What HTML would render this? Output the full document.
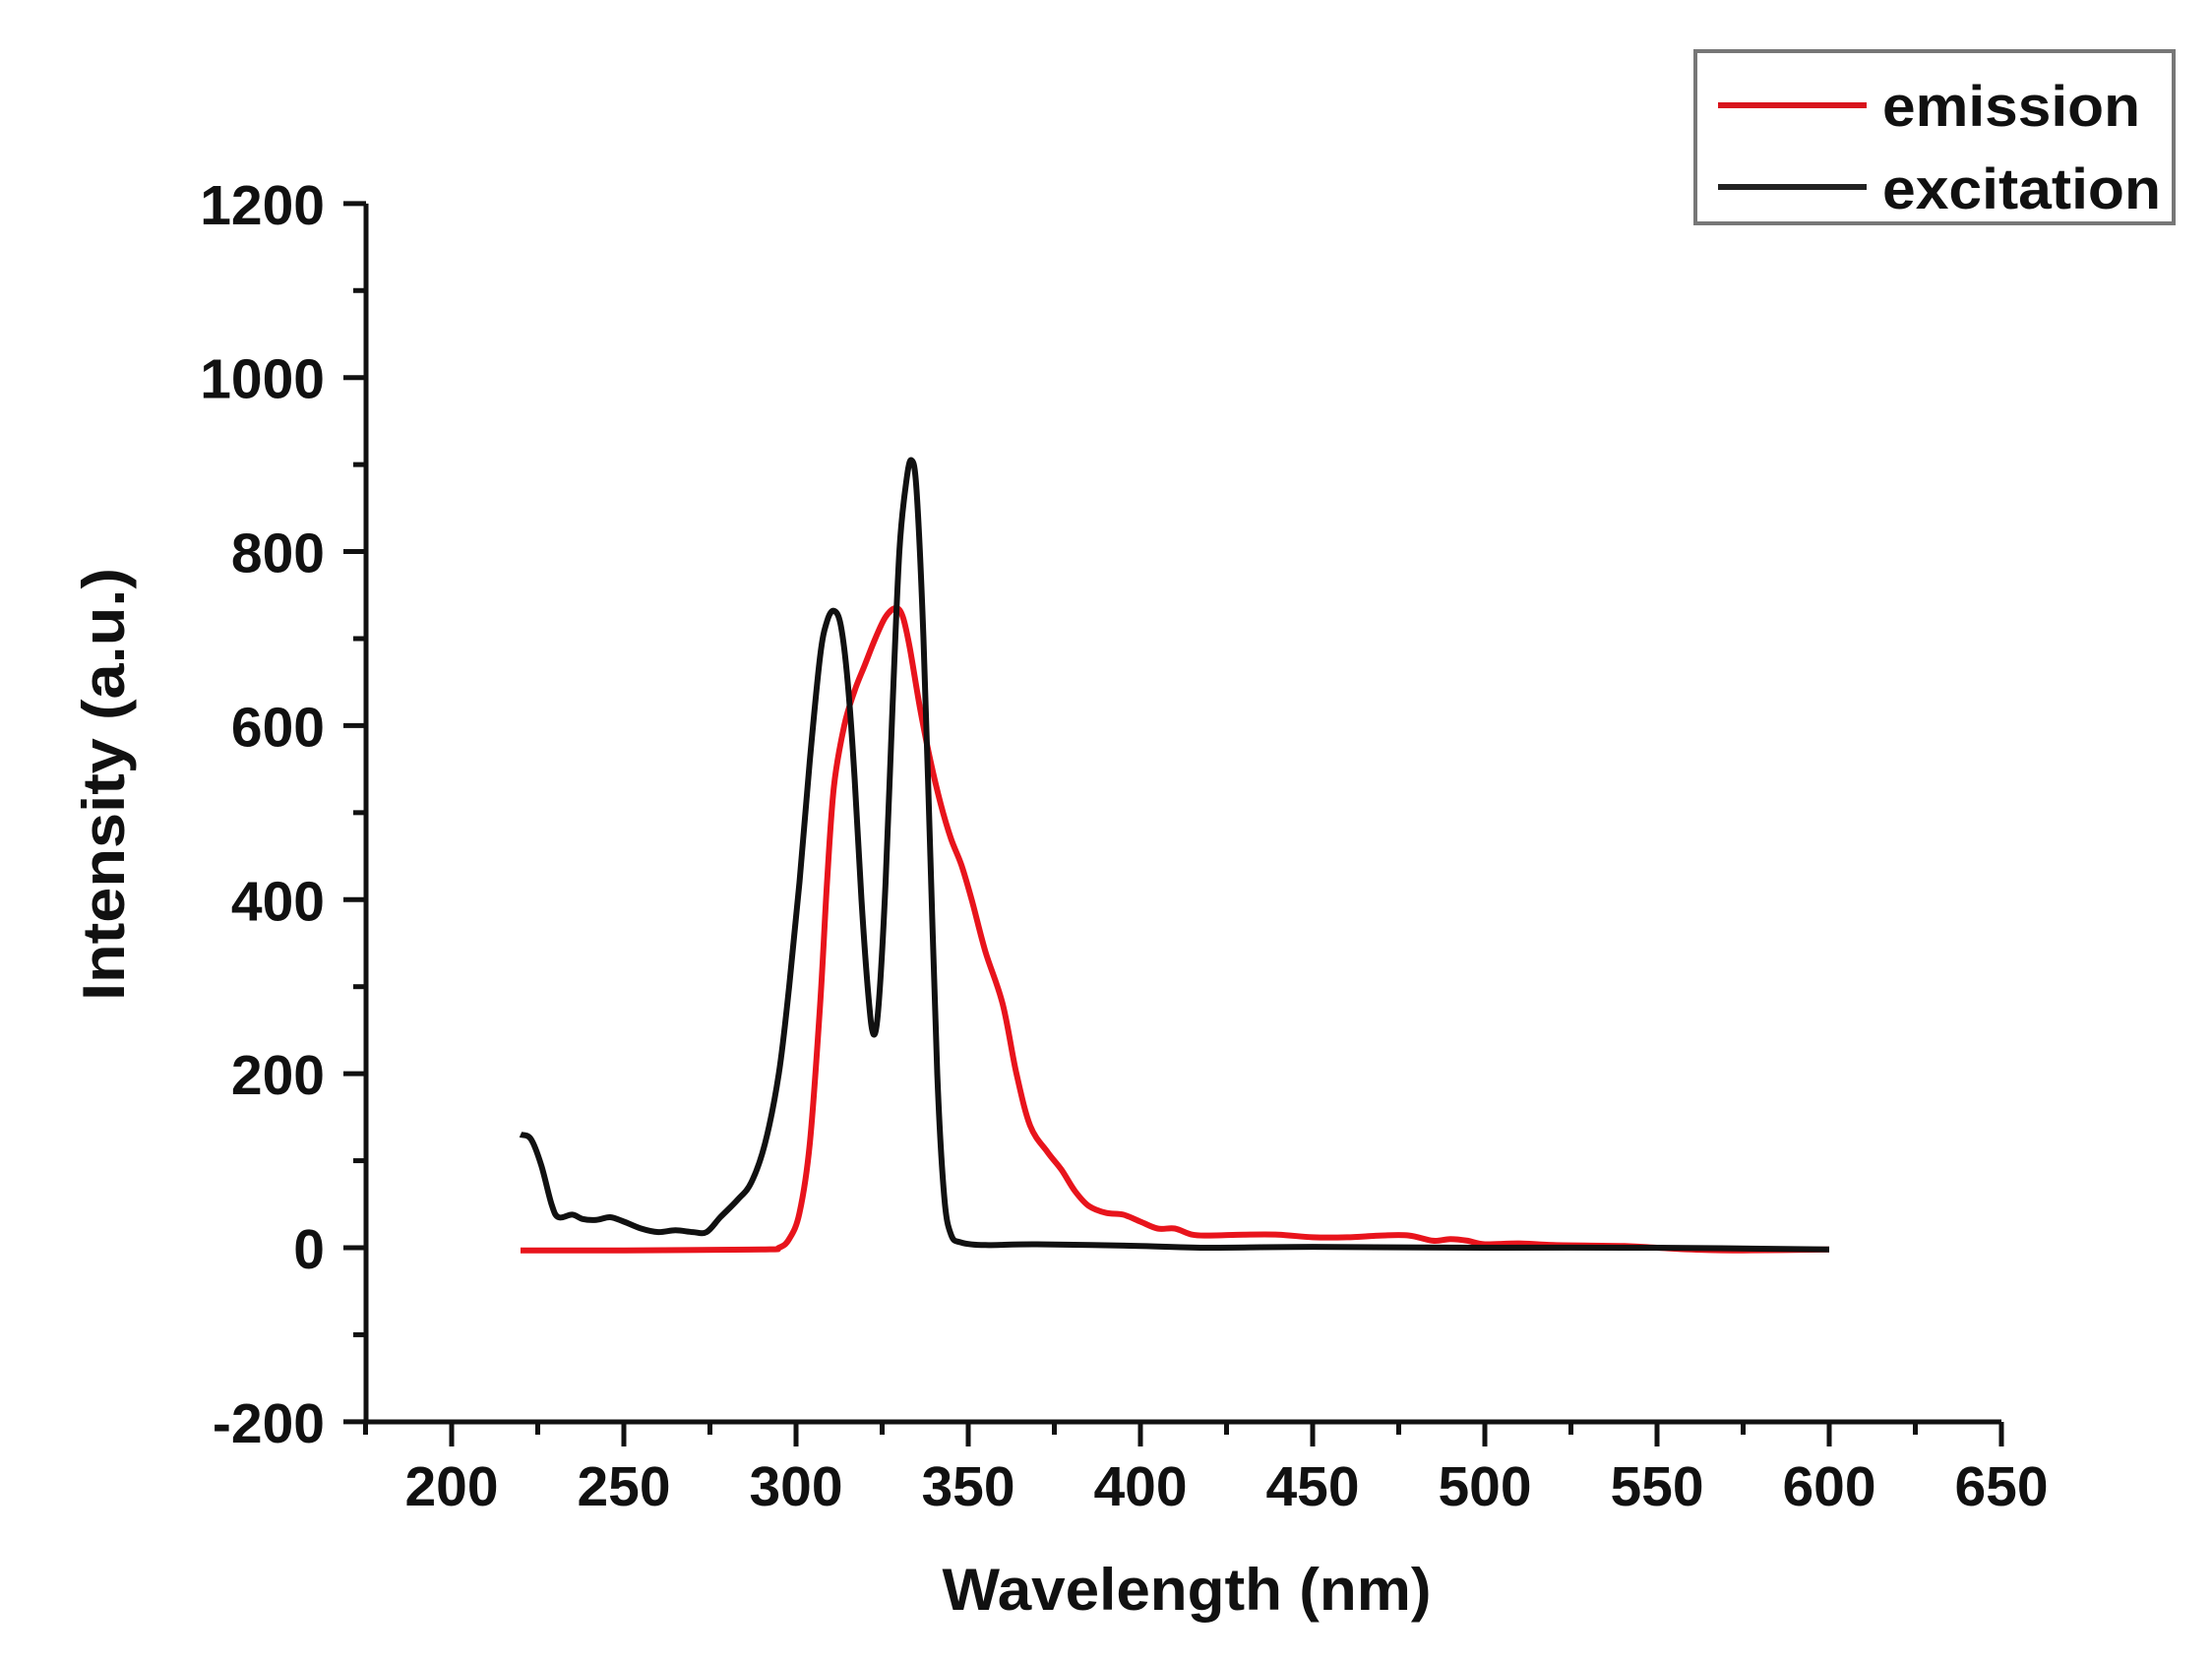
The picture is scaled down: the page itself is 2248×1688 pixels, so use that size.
<!DOCTYPE html>
<html><head><meta charset="utf-8"><style>
html,body{margin:0;padding:0;background:#fff;}
svg{display:block;}
text{font-family:"Liberation Sans",Arial,sans-serif;font-weight:bold;fill:#111;}
</style></head><body>
<svg id="s" width="2248" height="1688" viewBox="0 0 2248 1688" xmlns="http://www.w3.org/2000/svg">
<rect width="2248" height="1688" fill="#fff"/>
<g id="axes" stroke="#111" stroke-width="5" fill="none"></g>
<g id="labels" font-size="57"></g>
<path id="em" fill="none" stroke="#e8141c" stroke-width="6" stroke-linejoin="round"/>
<path id="ex" fill="none" stroke="#111" stroke-width="6" stroke-linejoin="round"/>
<text x="0" y="0" font-size="60" text-anchor="middle" transform="translate(126,797) rotate(-90)" textLength="440" lengthAdjust="spacingAndGlyphs">Intensity (a.u.)</text>
<text x="1206" y="1636" font-size="60" text-anchor="middle" textLength="497" lengthAdjust="spacingAndGlyphs">Wavelength (nm)</text>
<rect x="1723" y="52" width="486" height="175" fill="#fff" stroke="#777" stroke-width="4"/>
<line x1="1746" y1="107" x2="1897" y2="107" stroke="#d8141c" stroke-width="6"/>
<line x1="1746" y1="190" x2="1897" y2="190" stroke="#222" stroke-width="6"/>
<text x="1913" y="128" font-size="58" textLength="262" lengthAdjust="spacingAndGlyphs">emission</text>
<text x="1913" y="212" font-size="58" textLength="283" lengthAdjust="spacingAndGlyphs">excitation</text>
</svg>
<script>
var X=function(n){return 459+(n-200)*3.5;};
var Y=function(v){return 1268-v*0.8843;};
var ns="http://www.w3.org/2000/svg";
var ax=document.getElementById('axes'),lb=document.getElementById('labels');
function L(x1,y1,x2,y2){var l=document.createElementNS(ns,'line');l.setAttribute('x1',x1);l.setAttribute('y1',y1);l.setAttribute('x2',x2);l.setAttribute('y2',y2);ax.appendChild(l);}
function T(x,y,s,a){var t=document.createElementNS(ns,'text');t.setAttribute('x',x);t.setAttribute('y',y);t.setAttribute('text-anchor',a);t.textContent=s;lb.appendChild(t);}
L(372,Y(1200),372,1447);L(370,1445,X(650),1445);
for(var v=-200;v<=1200;v+=100){var maj=(v%200===0);L(maj?349:359,Y(v),372,Y(v));if(maj)T(330,Y(v)+21,String(v),'end');}
for(var n=175;n<=650;n+=25){var mj=(n%50===0);L(X(n),1445,X(n),mj?1470:1458);if(mj&&n>=200)T(X(n),1530,String(n),'middle');}
var ex=[[220,130],[223,125],[226,95],[229,50],[231,35],[235,38],[238,33],[242,32],[246,35],[250,30],[255,22],[260,18],[265,20],[270,18],[274,18],[278,35],[283,55],[287,75],[291,120],[295,200],[298,300],[301,420],[304,560],[307,680],[309,720],[311,732],[313,715],[315,650],[317,540],[319,400],[321,290],[322.5,245],[324,280],[326,420],[328,620],[330,800],[332,880],[333.5,905],[335,870],[337,700],[339,450],[341,200],[343,60],[345,15],[348,6],[355,3],[370,4],[400,2],[420,0],[450,1],[500,0],[550,0],[600,-2]];
var em=[[220,-3],[250,-3],[290,-2],[295,0],[298,10],[301,40],[304,120],[307,280],[309,420],[311,530],[314,600],[317,640],[320,670],[323,700],[326,725],[329,735],[331,725],[333,690],[336,620],[339,560],[342,510],[345,470],[348,440],[351,400],[355,340],[360,280],[364,200],[368,140],[373,110],[377,90],[381,65],[385,48],[390,40],[395,38],[400,30],[405,22],[410,22],[415,15],[420,14],[430,15],[440,15],[450,12],[460,12],[470,14],[478,14],[485,8],[490,10],[495,8],[500,4],[510,5],[520,3],[540,2],[550,0],[560,-2],[575,-3],[600,-2]];
function P(a){var p=a.map(function(q){return [X(q[0]),Y(q[1])];});var d='M'+p[0][0].toFixed(1)+' '+p[0][1].toFixed(1);
for(var i=0;i<p.length-1;i++){var p0=p[Math.max(i-1,0)],p1=p[i],p2=p[i+1],p3=p[Math.min(i+2,p.length-1)];
var c1=[p1[0]+(p2[0]-p0[0])/6,p1[1]+(p2[1]-p0[1])/6],c2=[p2[0]-(p3[0]-p1[0])/6,p2[1]-(p3[1]-p1[1])/6];
d+=' C'+c1[0].toFixed(1)+' '+c1[1].toFixed(1)+' '+c2[0].toFixed(1)+' '+c2[1].toFixed(1)+' '+p2[0].toFixed(1)+' '+p2[1].toFixed(1);}
return d;}
document.getElementById('em').setAttribute('d',P(em));
document.getElementById('ex').setAttribute('d',P(ex));
</script>
</body></html>
